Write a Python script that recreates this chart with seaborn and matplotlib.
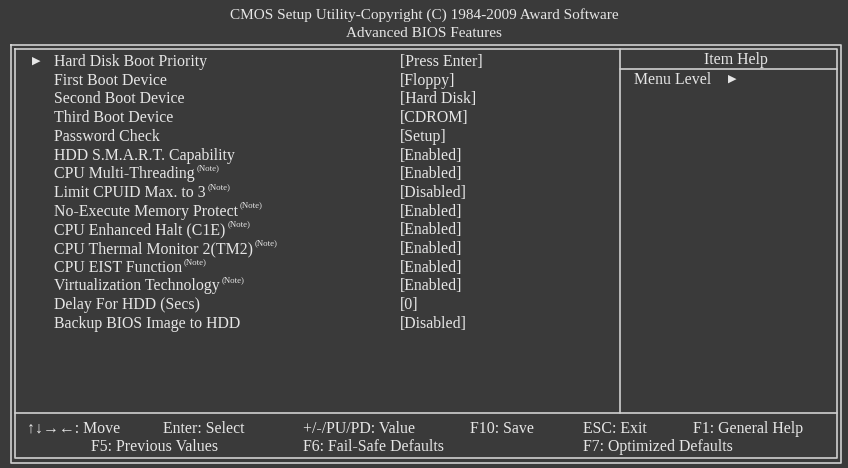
import matplotlib
matplotlib.use("Agg")
import matplotlib.pyplot as plt
import seaborn as sns

# --- screen content ---
title_lines = ["CMOS Setup Utility-Copyright (C) 1984-2009 Award Software",
               "Advanced BIOS Features"]
item_labels = ["Hard Disk Boot Priority", "First Boot Device", "Second Boot Device",
               "Third Boot Device", "Password Check", "HDD S.M.A.R.T. Capability",
               "CPU Multi-Threading", "Limit CPUID Max. to 3", "No-Execute Memory Protect",
               "CPU Enhanced Halt (C1E)", "CPU Thermal Monitor 2(TM2)", "CPU EIST Function",
               "Virtualization Technology", "Delay For HDD (Secs)", "Backup BIOS Image to HDD"]
item_values = ["[Press Enter]", "[Floppy]", "[Hard Disk]", "[CDROM]", "[Setup]", "[Enabled]",
               "[Enabled]", "[Disabled]", "[Enabled]", "[Enabled]", "[Enabled]", "[Enabled]",
               "[Enabled]", "[0]", "[Disabled]"]
item_note = [False, False, False, False, False, False, True, True, True, True, True, True,
             True, False, False]
item_submenu = [True] + [False] * 14
footer_row1 = ["\u2191\u2193\u2192\u2190: Move", "Enter: Select", "+/-/PU/PD: Value", "F10: Save",
               "ESC: Exit", "F1: General Help"]
footer_row2 = ["F5: Previous Values", "F6: Fail-Safe Defaults", "F7: Optimized Defaults"]

# --- layout (pixels) ---
W, H = 848, 468
bg = "#3a3a3a"
fg = "#e6e6e6"
ln = "#cfcfcf"
serif = ["Liberation Serif", "DejaVu Serif"]
fs = 11.4

sns.set_theme(style="white", rc={"figure.facecolor": bg, "axes.facecolor": bg})
plt.rcParams["font.family"] = serif

fig = plt.figure(figsize=(W / 100, H / 100), dpi=100)
ax = fig.add_axes([0, 0, 1, 1])
ax.set_xlim(0, W)
ax.set_ylim(H, 0)
ax.axis("off")

# double outer frame
for x0, y0, x1, y1 in [(11, 45, 841, 463), (15, 49, 837, 458)]:
    ax.plot([x0, x1, x1, x0, x0], [y0, y0, y1, y1, y0], color=ln, lw=1.2)
# footer separator, help column, help header
ax.plot([15, 837], [413, 413], color=ln, lw=1.2)
ax.plot([620, 620], [49, 413], color=ln, lw=1.2)
ax.plot([620, 837], [69, 69], color=ln, lw=1.2)

# title
for i, t in enumerate(title_lines):
    ax.text(424, 19 + i * 18, t, color=fg, fontsize=11, ha="center", va="baseline")

# items
fig.canvas.draw()
renderer = fig.canvas.get_renderer()
inv = ax.transData.inverted()
for i, (lab, val) in enumerate(zip(item_labels, item_values)):
    yb = 66 + i * 18.7
    t = ax.text(54, yb, lab, color=fg, fontsize=fs, va="baseline")
    ax.text(400, yb, val, color=fg, fontsize=fs, va="baseline")
    if item_submenu[i]:
        ax.text(32, yb - 5, "\u25b6", color=fg, fontsize=8, va="center",
                family=["DejaVu Sans"])
    if item_note[i]:
        bb = t.get_window_extent(renderer=renderer)
        xr = inv.transform((bb.x1, bb.y0))[0]
        ax.text(xr + 2, yb - 8, "(Note)", color=fg, fontsize=6.3, va="baseline")

# item help
ax.text(736, 64, "Item Help", color=fg, fontsize=fs, ha="center", va="baseline")
ax.text(634, 84, "Menu Level", color=fg, fontsize=fs, va="baseline")
ax.text(728, 79, "\u25b6", color=fg, fontsize=8, va="center", family=["DejaVu Sans"])

# footer
for x, t in zip([27, 163, 303, 470, 583, 693], footer_row1):
    ax.text(x, 433, t, color=fg, fontsize=fs, va="baseline")
for x, t in zip([91, 303, 583], footer_row2):
    ax.text(x, 451, t, color=fg, fontsize=fs, va="baseline")

fig.savefig("out.png", dpi=100, facecolor=bg)
